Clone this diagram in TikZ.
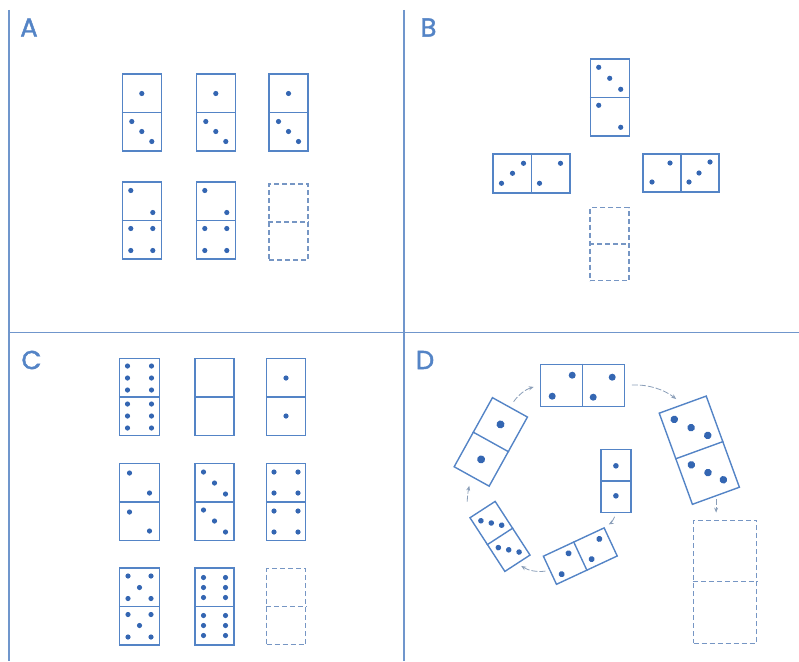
\documentclass[tikz,border=0pt]{standalone}
\usepackage{fontspec}
\newfontfamily\labelfont[FakeBold=1.6]{Poppins}
\usepackage{xcolor}
\usetikzlibrary{calc,arrows.meta}

\definecolor{lineblue}{RGB}{84,132,198}
\definecolor{pipblue}{RGB}{52,102,178}
\definecolor{gapblue}{RGB}{118,150,196}
\definecolor{arcgray}{RGB}{138,158,184}
\definecolor{frameblue}{RGB}{112,150,204}

\begin{document}
\begin{tikzpicture}[
    x=1pt, y=-1pt,
    domino/.style={rectangle, draw=lineblue, line width=1.4pt, minimum width=39pt, minimum height=77pt, inner sep=0pt},
    gapbox/.style={rectangle, draw=gapblue, line width=1.2pt, dash pattern=on 5pt off 3pt, minimum width=39pt, minimum height=76pt, inner sep=0pt},
    split/.style={draw=lineblue, line width=1.4pt},
    gapsplit/.style={draw=gapblue, line width=1.2pt, dash pattern=on 5pt off 3pt},
    pip/.style={fill=pipblue},
    flow/.style={draw=arcgray, line width=0.8pt, dash pattern=on 6pt off 2pt, -{Stealth[length=5pt,width=4pt]}},
    frame/.style={draw=frameblue, line width=1.6pt},
    panel/.style={font=\labelfont\fontsize{26}{26}\selectfont, text=lineblue, inner sep=0pt}
]
\useasboundingbox (0,0) rectangle (799,661);

% Panel frame
\draw[frame] (9,10) -- (9,661);
\draw[frame] (404,10) -- (404,661);
\draw[frame] (9,332.5) -- (799,332.5);

% Panel letters
\node[panel] (labA) at (29,27.5) {A};
\node[panel] (labB) at (428.5,27.5) {B};
\node[panel] (labC) at (31.5,360) {C};
\node[panel] (labD) at (425,360) {D};

%%%%%%%%%%%%%%%% Panel A %%%%%%%%%%%%%%%%
% First row: one and three
\foreach \n/\cx in {a1/141.8, a2/215.8, a3/288.5} {
    \node[domino] (\n) at (\cx,112.5) {};
    \draw[split] (\n.west) -- (\n.east);
    \foreach \px/\py in {0/-19, -10/9, 0/19, 10/29}
        \fill[pip] ($(\n)+(\px,\py)$) circle (2.6pt);
}

% Second row: two and four
\foreach \n/\cx in {a4/141.8, a5/215.8} {
    \node[domino] (\n) at (\cx,220.5) {};
    \draw[split] (\n.west) -- (\n.east);
    \foreach \px/\py in {-11/-30, 11/-8, -11/8, 11/8, -11/30, 11/30}
        \fill[pip] ($(\n)+(\px,\py)$) circle (2.6pt);
}

% Missing piece
\node[gapbox] (a6) at (288.5,222) {};
\draw[gapsplit] (a6.west) -- (a6.east);

%%%%%%%%%%%%%%%% Panel B %%%%%%%%%%%%%%%%
% Top piece
\node[domino] (b1) at (609.7,97.3) {};
\draw[split] (b1.west) -- (b1.east);
\foreach \px/\py in {-11/-30, 0/-19, 11/-8, -11/8, 11/30}
    \fill[pip] ($(b1)+(\px,\py)$) circle (2.6pt);

% Left piece
\node[domino, minimum width=77pt, minimum height=39pt] (b2) at (531.5,173.3) {};
\draw[split] (b2.north) -- (b2.south);
\foreach \px/\py in {-30/10, -19/0, -8/-10, 8/10, 29/-10}
    \fill[pip] ($(b2)+(\px,\py)$) circle (2.6pt);

% Right piece
\node[domino, minimum width=76pt, minimum height=38pt] (b3) at (681,173) {};
\draw[split] (b3.north) -- (b3.south);
\foreach \px/\py in {-29/9, -11/-10, 8/9, 18/0, 29/-11}
    \fill[pip] ($(b3)+(\px,\py)$) circle (2.6pt);

% Missing piece
\node[gapbox, minimum height=73pt] (b4) at (609.5,244) {};
\draw[gapsplit] (b4.west) -- (b4.east);

%%%%%%%%%%%%%%%% Panel C %%%%%%%%%%%%%%%%
% First row
\node[domino, minimum width=40pt] (c1) at (139.5,397) {};
\draw[split] (c1.west) -- (c1.east);
\foreach \px in {-12,12}
    \foreach \py in {-31,-19,-7,7,19,31}
        \fill[pip] ($(c1)+(\px,\py)$) circle (2.6pt);

\node[domino] (c2) at (214.5,397) {};
\draw[split] (c2.west) -- (c2.east);

\node[domino] (c3) at (286,397) {};
\draw[split] (c3.west) -- (c3.east);
\foreach \py in {-19,19}
    \fill[pip] ($(c3)+(0,\py)$) circle (2.6pt);

% Second row
\node[domino, minimum width=40pt] (c4) at (139.5,502) {};
\draw[split] (c4.west) -- (c4.east);
\foreach \px/\py in {-10/-29, 10/-9, -10/10, 10/29}
    \fill[pip] ($(c4)+(\px,\py)$) circle (2.6pt);

\node[domino] (c5) at (214.5,502) {};
\draw[split] (c5.west) -- (c5.east);
\foreach \px/\py in {-11/-30, 0/-19, 11/-8, -11/8, 0/19, 11/30}
    \fill[pip] ($(c5)+(\px,\py)$) circle (2.6pt);

\node[domino] (c6) at (286,502) {};
\draw[split] (c6.west) -- (c6.east);
\foreach \px in {-12,12}
    \foreach \py in {-30,-9,9,30}
        \fill[pip] ($(c6)+(\px,\py)$) circle (2.6pt);

% Third row
\node[domino, minimum width=40pt] (c7) at (139.5,606.5) {};
\draw[split] (c7.west) -- (c7.east);
\foreach \px/\py in {-11.5/-30.5, 11.5/-30.5, 0/-19, -11.5/-8, 11.5/-8,
                     -11.5/8, 11.5/8, 0/19, -11.5/30.5, 11.5/30.5}
    \fill[pip] ($(c7)+(\px,\py)$) circle (2.6pt);

\node[domino] (c8) at (214.5,606.5) {};
\draw[split] (c8.west) -- (c8.east);
\foreach \px in {-11,11}
    \foreach \py in {-29,-19,-9,9,19,29}
        \fill[pip] ($(c8)+(\px,\py)$) circle (2.6pt);

% Missing piece
\node[gapbox] (c9) at (286,606.5) {};
\draw[gapsplit] (c9.west) -- (c9.east);

%%%%%%%%%%%%%%%% Panel D %%%%%%%%%%%%%%%%
% Small piece in the middle
\node[domino, minimum width=30pt, minimum height=63pt] (dC) at (615.9,480.8) {};
\draw[split] (dC.west) -- (dC.east);
\foreach \py in {-15,15}
    \fill[pip] ($(dC)+(0,\py)$) circle (2.8pt);

% Bottom piece
\node[domino, minimum width=67pt, minimum height=31pt, rotate=25] (dB) at (580.3,556.1) {};
\draw[split] (dB.north) -- (dB.south);
\begin{scope}[shift={(dB.center)}, rotate=25]
    \foreach \px/\py in {-9.5/-7.5, -24.5/8.5, 24.5/-7.5, 9/7.5}
        \fill[pip] (\px,\py) circle (3pt);
\end{scope}

% Bottom left piece
\node[domino, minimum width=30pt, minimum height=64pt, rotate=33] (dBL) at (500,536.4) {};
\draw[split] (dBL.west) -- (dBL.east);
\begin{scope}[shift={(dBL.center)}, rotate=33]
    \foreach \px/\py in {-7.5/-23.5, 0/-16, 7.5/-8.5, -7.5/8.5, 0/16, 7.5/23.5}
        \fill[pip] (\px,\py) circle (2.8pt);
\end{scope}

% Left piece
\node[domino, minimum width=40pt, minimum height=79pt, rotate=-29] (dL) at (490.8,441.9) {};
\draw[split] (dL.west) -- (dL.east);
\begin{scope}[shift={(dL.center)}, rotate=-29]
    \foreach \py in {-20,20}
        \fill[pip] (0,\py) circle (4pt);
\end{scope}

% Top piece
\node[domino, minimum width=84pt, minimum height=42pt] (dT) at (582.2,385.2) {};
\draw[split] (dT.north) -- (dT.south);
\foreach \px/\py in {-30/11, -10/-10, 11/12, 30/-8}
    \fill[pip] ($(dT)+(\px,\py)$) circle (3.5pt);

% Right piece
\node[domino, minimum width=50pt, minimum height=97pt, rotate=20] (dR) at (699.3,450.2) {};
\draw[split] (dR.west) -- (dR.east);
\begin{scope}[shift={(dR.center)}, rotate=20]
    \foreach \px/\py in {-13/-37.5, 0/-24, 13/-11, -12.5/11, 0.5/24, 12.5/36}
        \fill[pip] (\px,\py) circle (3.8pt);
\end{scope}

% Missing piece
\node[gapbox, minimum width=63pt, minimum height=123pt] (dQ) at (725,581.7) {};
\draw[gapsplit] (dQ.west) -- (dQ.east);

% Arrows round the ring
\draw[flow, shorten <=4pt, shorten >=5pt] (dC.south) to[bend left=20] (dB.north east);
\draw[flow, shorten <=4pt, shorten >=4pt] (dB.west) to[bend left=20] (dBL.south);
\draw[flow, shorten <=16pt, shorten >=9pt] (dBL.north west) to[bend left=10] (dL.south);
\draw[flow, shorten <=6pt, shorten >=6pt] (dL.north) to[bend left=20] (dT.west);
\draw[flow, shorten <=7pt, shorten >=8pt] (dT.east) to[bend left=20] (dR.north);
\draw[flow, shorten <=3pt, shorten >=7pt] (dR.south) -- (dR.south |- dQ.north);

\end{tikzpicture}
\end{document}
